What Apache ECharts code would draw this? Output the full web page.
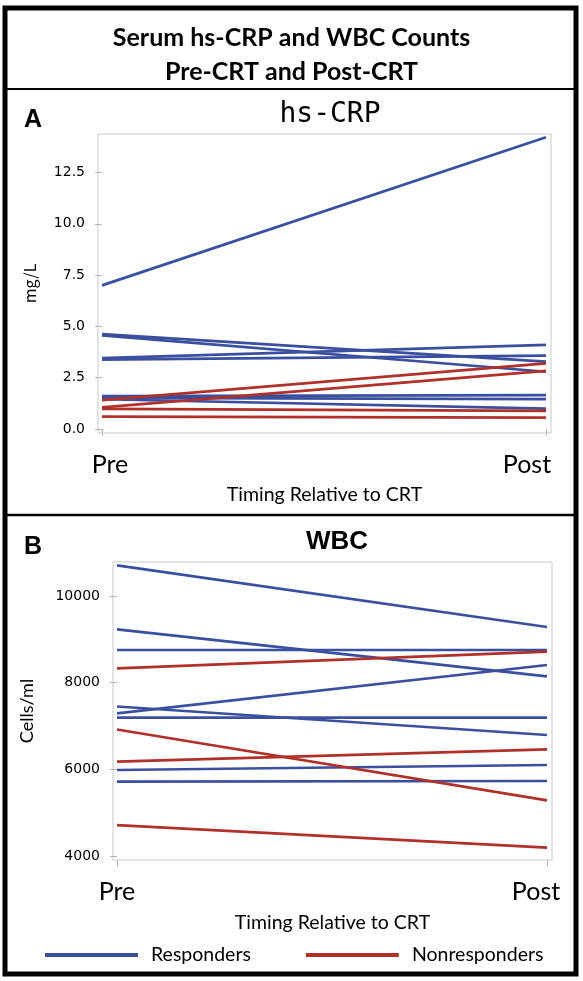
<!DOCTYPE html>
<html>
<head>
<meta charset="utf-8">
<script src="https://cdn.jsdelivr.net/npm/echarts@6/dist/echarts.min.js"></script>
<style>
html,body{margin:0;padding:0;background:#fff;}
#chart{width:583px;height:981px;}
</style>
</head>
<body>
<div id="chart"></div>
<script>
// ---- data ----
var timeLabels = ['Pre', 'Post'];
var crpTicks = [0, 2.5, 5, 7.5, 10, 12.5];
var wbcTicks = [4000, 6000, 8000, 10000];

var crpRespPre  = [7.00, 4.62, 4.56, 3.45, 3.38, 1.60, 1.52, 1.45];
var crpRespPost = [14.22, 3.28, 2.79, 4.10, 3.58, 1.65, 1.46, 0.99];
var crpNonPre   = [1.41, 1.05, 0.98, 0.60];
var crpNonPost  = [3.20, 2.83, 0.88, 0.55];

var wbcRespPre  = [10709, 9232, 8754, 7450, 7293, 7192, 5985, 5715];
var wbcRespPost = [9285, 8147, 8754, 6793, 8408, 7192, 6100, 5731];
var wbcNonPre   = [8332, 6920, 6176, 4715];
var wbcNonPost  = [8715, 5285, 6462, 4192];

// ---- styles ----
var BLUE = '#3B4F9F';
var RED = '#B0302A';
var GRIDC = '#c5c9cd';
var calib = 'Lato, "Open Sans", sans-serif';

function lines(pre, post, name, color, axisIdx) {
  return pre.map(function (v, i) {
    return {
      type: 'line', name: name, xAxisIndex: axisIdx, yAxisIndex: axisIdx,
      data: [[0, v], [1, post[i]]],
      symbol: 'none', silent: true, animation: false,
      lineStyle: { color: color, width: 2.7 }, itemStyle: { color: color }
    };
  });
}

var series = []
  .concat(lines(crpRespPre, crpRespPost, 'Responders', BLUE, 0))
  .concat(lines(crpNonPre, crpNonPost, 'Nonresponders', RED, 0))
  .concat(lines(wbcRespPre, wbcRespPost, 'Responders', BLUE, 1))
  .concat(lines(wbcNonPre, wbcNonPost, 'Nonresponders', RED, 1));

function xAxis(gridIdx, min, max, nameGap, padPre, padPost) {
  return {
    type: 'value', gridIndex: gridIdx, min: min, max: max,
    axisLine: { show: false },
    splitLine: { show: false },
    axisTick: { show: true, customValues: [0, 1], length: 7, lineStyle: { color: '#b0b4b8' } },
    axisLabel: {
      customValues: [0, 1], margin: 19, fontSize: 25, fontFamily: calib, color: '#000',
      formatter: function (v) { return v < 0.5 ? '{pre|' + timeLabels[0] + '}' : '{post|' + timeLabels[1] + '}'; },
      rich: {
        pre: { fontSize: 25, fontFamily: calib, color: '#000', padding: padPre },
        post: { fontSize: 25, fontFamily: calib, color: '#000', padding: padPost }
      }
    },
    name: 'Timing Relative to CRT', nameLocation: 'middle', nameGap: nameGap,
    nameTextStyle: { fontSize: 19.5, fontFamily: calib, color: '#000' }
  };
}

function yAxis(gridIdx, min, max, ticks, fmt, name, nameGap, nameFont, nameSize) {
  return {
    type: 'value', gridIndex: gridIdx, min: min, max: max,
    axisLine: { show: false },
    splitLine: { show: false },
    axisTick: { show: true, customValues: ticks, length: 7, lineStyle: { color: '#b0b4b8' } },
    axisLabel: {
      customValues: ticks, margin: 13, fontSize: 14, fontFamily: '"DejaVu Sans", sans-serif', color: '#000',
      formatter: fmt
    },
    name: name, nameLocation: 'middle', nameGap: nameGap, nameRotate: 90,
    nameTextStyle: { fontSize: nameSize, fontFamily: nameFont, color: '#000' }
  };
}

var chart = echarts.init(document.getElementById('chart'), null, { renderer: 'canvas' });
chart.setOption({
  backgroundColor: '#fff',
  animation: false,
  title: [
    { text: 'Serum hs-CRP and WBC Counts\nPre-CRT and Post-CRT', left: 'center', top: 16,
      textStyle: { fontSize: 25, fontWeight: 'bold', fontFamily: calib, color: '#000', lineHeight: 34 } },
    { text: 'A', left: 19, top: 103, textStyle: { fontSize: 25, fontWeight: 'bold', fontFamily: '"Liberation Sans", Arial', color: '#000' } },
    { text: 'hs-CRP', left: 325, textAlign: 'center', top: 96, textStyle: { fontSize: 28, fontWeight: 'normal', fontFamily: '"DejaVu Sans Mono", monospace', color: '#000' } },
    { text: 'B', left: 19, top: 530, textStyle: { fontSize: 25, fontWeight: 'bold', fontFamily: '"Liberation Sans", Arial', color: '#000' } },
    { text: 'WBC', left: 332, textAlign: 'center', top: 524, textStyle: { fontSize: 26, fontWeight: 'bold', fontFamily: '"Liberation Sans", Arial', color: '#000' } }
  ],
  legend: {
    left: 40, top: 940, itemWidth: 93, itemHeight: 4, itemGap: 55, icon: 'rect',
    textStyle: { fontSize: 19.5, fontFamily: calib, color: '#000', padding: [0, 0, 0, 8] },
    data: ['Responders', 'Nonresponders'], selectedMode: false
  },
  grid: [
    { left: 98, top: 134, width: 453, height: 299, show: true, borderColor: GRIDC, borderWidth: 1, backgroundColor: '#fff' },
    { left: 113, top: 562, width: 439, height: 298, show: true, borderColor: GRIDC, borderWidth: 1, backgroundColor: '#fff' }
  ],
  xAxis: [
    xAxis(0, -0.009, 1.0113, 52, [0, 0, 0, 16], [0, 38, 0, 0]),
    xAxis(1, -0.0093, 1.0116, 53, [0, 0, 0, 0], [0, 22, 0, 0])
  ],
  yAxis: [
    yAxis(0, -0.195, 14.375, crpTicks, function (v) { return v.toFixed(1); }, 'mg/L', 60, '"Noto Sans CJK JP", sans-serif', 16),
    yAxis(1, 3908, 10785, wbcTicks, function (v) { return String(v); }, 'Cells/ml', 77, calib, 18)
  ],
  graphic: [
    { type: 'rect', shape: { x: 5, y: 8, width: 571, height: 966 }, style: { fill: 'none', stroke: '#000', lineWidth: 5 }, z: 100 },
    { type: 'line', shape: { x1: 5, y1: 89, x2: 576, y2: 89 }, style: { stroke: '#000', lineWidth: 2 }, z: 100 },
    { type: 'line', shape: { x1: 5, y1: 515, x2: 576, y2: 515 }, style: { stroke: '#000', lineWidth: 2.5 }, z: 100 }
  ],
  series: series
});
</script>
</body>
</html>
